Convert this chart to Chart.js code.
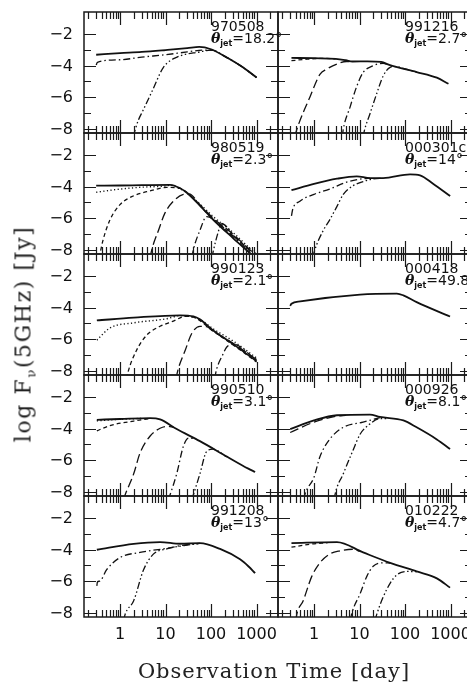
<!DOCTYPE html>
<html>
<head>
<meta charset="utf-8">
<script src="https://cdn.jsdelivr.net/npm/chart.js@4.4.1/dist/chart.umd.min.js"></script>
<style>
  body { margin: 0; width: 467px; height: 690px; overflow: hidden; background: #fff; position: relative; }
  canvas { position: absolute; left: 0; top: 0; }
  .tag { position: absolute; font: 14px "DejaVu Sans", sans-serif; line-height: 12px; color: #111; white-space: nowrap; }
  .tag i { font-family: "DejaVu Serif", serif; font-weight: bold; }
  .tag sub { font-size: 8px; font-weight: bold; vertical-align: -3px; line-height: 0; }
  .ttl { position: absolute; font: 21px "DejaVu Serif", serif; color: #222; white-space: nowrap; letter-spacing: 1px; }
  .ttl sub { font-size: 13px; vertical-align: -5px; line-height: 0; }
  .ttl.yt { font-size: 22px; letter-spacing: 1.6px; }
</style>
</head>
<body>
<script>
// tick labels
const xTickValues = [1, 10, 100, 1000];
const xTickLabels = ['1', '10', '100', '1000'];
const yTickValues = [-2, -4, -6, -8];
const yTickLabels = ['\u22122', '\u22124', '\u22126', '\u22128'];

// bursts, top-left to bottom-right
const grbNames = ['970508', '991216', '980519', '000301c', '990123', '000418', '990510', '000926', '991208', '010222'];
const thetaJet = ['18.2', '2.7', '2.3', '14', '2.1', '49.8', '3.1', '8.1', '13', '4.7'];

// [time (day), log flux (Jy)]
const grb970508Total = [[0.3,-3.3],[1,-3.2],[3,-3.12],[10,-3.0],[30,-2.88],[55,-2.8],[100,-2.95],[200,-3.4],[500,-4.1],[1000,-4.75]];
const grb970508B = [[0.3,-3.95],[0.32,-3.78],[1,-3.62],[3,-3.45],[10,-3.3],[30,-3.12],[70,-3.0],[100,-3.0],[200,-3.4],[500,-4.1],[1000,-4.75]];
const grb970508C = [[1.95,-8.5],[2.5,-7.5],[3.2,-6.85],[5.3,-5.5],[9,-4.1],[18,-3.45],[57,-3.12],[100,-3.0],[200,-3.4],[500,-4.1],[1000,-4.75]];

const grb991216Total = [[0.32,-3.5],[1,-3.52],[3,-3.56],[5,-3.65],[7,-3.73],[15,-3.72],[30,-3.76],[45,-3.95],[180,-4.4],[500,-4.76],[900,-5.15]];
const grb991216B = [[0.32,-3.68],[0.6,-3.6],[1.5,-3.53],[3,-3.56]];
const grb991216C = [[0.38,-8.5],[0.42,-8.05],[0.82,-5.97],[1.35,-4.55],[1.9,-4.22],[3.2,-3.89],[5.2,-3.73],[7,-3.73]];
const grb991216D = [[4.2,-8.5],[4.4,-8.05],[6.2,-6.63],[8.7,-5.31],[12,-4.43],[20,-4.0],[33,-3.84],[45,-3.95]];
const grb991216E = [[12,-8.5],[13,-8.05],[17,-7.05],[24,-5.75],[33,-4.66],[47,-4.1],[60,-4.05],[100,-4.2],[180,-4.4]];

const grb980519Total = [[0.3,-3.93],[1,-3.92],[3,-3.9],[12.6,-3.88],[21,-4.1],[29,-4.37],[57,-5.2],[112,-6.1],[300,-7.25],[700,-8.2],[1000,-8.6]];
const grb980519B = [[0.3,-4.35],[1,-4.15],[3,-4.03],[10,-3.95],[13,-3.9],[20,-4.1],[30,-4.4],[57,-5.1],[112,-5.9],[300,-6.9],[700,-7.9],[1000,-8.3]];
const grb980519C = [[0.35,-8.5],[0.42,-7.44],[0.6,-6.12],[1,-5.14],[1.95,-4.59],[4.6,-4.26],[10.7,-4.04],[21,-4.1],[30,-4.38],[57,-5.2],[112,-6.1],[300,-7.1],[700,-8.0]];
const grb980519D = [[4.6,-8.5],[5,-8.0],[7,-6.78],[9.7,-5.68],[14.9,-4.92],[24.7,-4.48],[33,-4.45],[57,-5.15],[112,-6.0],[300,-7.0],[700,-8.0],[1000,-8.4]];
const grb980519E = [[38,-8.5],[41,-8.0],[57,-6.78],[80,-5.9],[110,-6.05],[300,-7.15],[700,-8.1]];
const grb980519F = [[105,-8.5],[112,-8.1],[140,-7.0],[171,-6.34],[230,-6.6],[300,-7.05],[700,-8.0]];

const grb000301cTotal = [[0.32,-4.22],[1,-3.82],[3.2,-3.49],[8.7,-3.34],[17,-3.45],[33,-3.45],[129,-3.21],[214,-3.27],[420,-3.82],[980,-4.59]];
const grb000301cB = [[0.32,-5.86],[0.34,-5.45],[0.49,-4.92],[1,-4.48],[2.2,-4.15],[5.2,-3.71],[12,-3.49],[17,-3.45]];
const grb000301cC = [[0.95,-8.5],[1,-8.2],[1.6,-6.78],[2.2,-6.12],[3.2,-5.25],[4.4,-4.48],[7.3,-3.93],[12,-3.67],[20,-3.5],[33,-3.45]];

const grb990123Total = [[0.31,-4.81],[2,-4.63],[21,-4.48],[41,-4.55],[57,-4.74],[112,-5.45],[300,-6.3],[1000,-7.4]];
const grb990123B = [[0.31,-6.06],[0.6,-5.29],[2,-4.96],[10.6,-4.7],[21,-4.5],[57,-4.75],[112,-5.35],[300,-6.1],[1000,-7.2]];
const grb990123C = [[1.4,-8.5],[1.5,-8.1],[2.3,-6.72],[3.9,-5.73],[7.6,-5.18],[14.9,-4.85],[27,-4.55],[41,-4.6],[112,-5.5],[300,-6.35],[1000,-7.45]];
const grb990123D = [[17,-8.5],[19,-7.9],[27,-6.72],[38,-5.62],[57,-5.18],[80,-5.2],[112,-5.5],[300,-6.25],[1000,-7.3]];
const grb990123E = [[120,-8.5],[133,-7.9],[180,-7.0],[222,-6.5],[300,-6.3],[1000,-7.35]];

const grb000418Total = [[0.3,-3.88],[0.32,-3.75],[0.5,-3.6],[10.3,-3.16],[66,-3.1],[92,-3.21],[180,-3.64],[975,-4.56]];

const grb990510Total = [[0.31,-3.43],[1,-3.38],[4.6,-3.32],[7.6,-3.4],[17.6,-4.02],[57,-4.79],[222,-5.77],[660,-6.54],[930,-6.75]];
const grb990510B = [[0.31,-3.5],[1,-3.4],[3,-3.34]];
const grb990510C = [[0.31,-4.13],[0.6,-3.8],[2,-3.51],[4.6,-3.35]];
const grb990510D = [[1.2,-8.5],[1.3,-8.2],[2,-6.87],[2.75,-5.55],[4.6,-4.46],[7.6,-3.97],[11,-3.85],[15,-3.9]];
const grb990510E = [[11.5,-8.5],[12.6,-8.2],[17.6,-6.87],[24.7,-5.12],[32,-4.6],[45,-4.63]];
const grb990510F = [[38,-8.5],[41,-8.2],[57,-6.87],[80,-5.45],[110,-5.3],[222,-5.8]];

const grb000926Total = [[0.3,-4.02],[1,-3.47],[3.2,-3.14],[17,-3.1],[28,-3.25],[92,-3.47],[180,-3.91],[500,-4.68],[975,-5.29]];
const grb000926B = [[0.3,-4.24],[1,-3.58],[3.2,-3.2],[5,-3.15]];
const grb000926C = [[0.6,-8.5],[0.63,-8.2],[1,-7.09],[1.35,-5.78],[2.2,-4.68],[4.4,-3.91],[12,-3.58],[28,-3.3]];
const grb000926D = [[2.8,-8.5],[2.9,-8.2],[4.4,-6.87],[7.3,-5.33],[10.3,-4.35],[17,-3.69],[28,-3.35],[40,-3.35]];

const grb991208Total = [[0.31,-4.0],[2,-3.62],[7.6,-3.51],[21,-3.62],[57,-3.58],[158,-3.95],[434,-4.61],[660,-5.05],[930,-5.49]];
const grb991208B = [[0.31,-6.3],[0.32,-6.04],[0.36,-6.0],[0.51,-5.27],[1,-4.5],[2.75,-4.17],[10.6,-3.91],[30,-3.67],[57,-3.6]];
const grb991208C = [[1.2,-8.5],[1.3,-8.1],[2,-7.24],[3.3,-5.27],[5.4,-4.28],[10.6,-3.95],[30,-3.7],[57,-3.6]];

const grb010222Total = [[0.32,-3.58],[3.2,-3.51],[12,-4.17],[47,-4.83],[180,-5.38],[500,-5.82],[975,-6.41]];
const grb010222B = [[0.32,-3.84],[0.8,-3.65],[2,-3.55]];
const grb010222C = [[0.4,-8.5],[0.42,-8.1],[0.58,-7.24],[0.89,-5.71],[1.35,-4.83],[2.2,-4.28],[3.7,-4.07],[7,-3.97],[10,-4.08]];
const grb010222D = [[6.3,-8.5],[6.7,-8.1],[10.3,-6.8],[14.4,-5.71],[20,-5.05],[33,-4.83],[47,-4.85]];
const grb010222E = [[22,-8.5],[24,-8.1],[33,-7.02],[47,-6.14],[66,-5.6],[109,-5.38],[180,-5.4]];

const panelCurves = [
  [['solid', grb970508Total], ['dashdot', grb970508B], ['dashdotdot', grb970508C]],
  [['solid', grb991216Total], ['dash', grb991216B], ['long', grb991216C], ['dashdot', grb991216D], ['dashdotdot', grb991216E]],
  [['solid', grb980519Total], ['dot', grb980519B], ['dash', grb980519C], ['long', grb980519D], ['dashdot', grb980519E], ['dashdotdot', grb980519F]],
  [['solid', grb000301cTotal], ['dashdot', grb000301cB], ['dashdotdot', grb000301cC]],
  [['solid', grb990123Total], ['dot', grb990123B], ['dash', grb990123C], ['long', grb990123D], ['dashdot', grb990123E]],
  [['solid', grb000418Total]],
  [['solid', grb990510Total], ['dot', grb990510B], ['dash', grb990510C], ['long', grb990510D], ['dashdot', grb990510E], ['dashdotdot', grb990510F]],
  [['solid', grb000926Total], ['long', grb000926B], ['dashdot', grb000926C], ['dashdotdot', grb000926D]],
  [['solid', grb991208Total], ['dashdot', grb991208B], ['dashdotdot', grb991208C]],
  [['solid', grb010222Total], ['dash', grb010222B], ['long', grb010222C], ['dashdot', grb010222D], ['dashdotdot', grb010222E]]
];

// layout
const W = 480, H = 690;
const colLeft = [84, 278], colWidth = 194;
const rowTop = [12, 133, 254, 375, 496], rowHeight = 121;
const tMin = 0.162, tMax = 2960;
const fMin = -8.28, fMax = -0.58;

const lineStyles = {
  solid:      { w: 1.8, dash: [] },
  dot:        { w: 1.4, dash: [1.2, 2.4] },
  dash:       { w: 1.3, dash: [4, 3] },
  long:       { w: 1.3, dash: [9, 4] },
  dashdot:    { w: 1.3, dash: [7, 3, 1.5, 3] },
  dashdotdot: { w: 1.3, dash: [7, 2.5, 1.5, 2.5, 1.5, 2.5] }
};

// frame with inward ticks on all four sides, plus tick labels
const framePlugin = {
  id: 'frame',
  afterDatasetsDraw(chart, args, opts) {
    const ctx = chart.ctx, a = chart.chartArea;
    const xs = chart.scales.x, ys = chart.scales.y;
    ctx.save();
    ctx.strokeStyle = '#1a1a1a';
    ctx.lineWidth = 1.5;
    ctx.strokeRect(a.left, a.top, a.right - a.left, a.bottom - a.top);
    ctx.lineWidth = 1.2;
    ctx.beginPath();
    for (let d = -1; d <= 3; d++) {
      for (let m = 1; m <= 9; m++) {
        const v = m * Math.pow(10, d);
        if (v < tMin || v > tMax) continue;
        const px = Math.round(xs.getPixelForValue(v)) + 0.5;
        const len = m === 1 ? 13 : 7;
        ctx.moveTo(px, a.bottom); ctx.lineTo(px, a.bottom - len);
        ctx.moveTo(px, a.top); ctx.lineTo(px, a.top + len);
      }
    }
    for (let v = -8; v <= -2; v++) {
      const py = Math.round(ys.getPixelForValue(v)) + 0.5;
      const len = v % 2 === 0 ? 12 : 7;
      ctx.moveTo(a.left, py); ctx.lineTo(a.left + len, py);
      ctx.moveTo(a.right, py); ctx.lineTo(a.right - len, py);
    }
    ctx.stroke();

    ctx.fillStyle = '#111';
    ctx.font = '16px "DejaVu Sans"';
    if (opts.yLabels) {
      ctx.textAlign = 'right';
      ctx.textBaseline = 'middle';
      yTickValues.forEach((v, i) => ctx.fillText(yTickLabels[i], a.left - 11, ys.getPixelForValue(v) + 1));
    }
    if (opts.xLabels) {
      ctx.textAlign = 'center';
      ctx.textBaseline = 'middle';
      xTickValues.forEach((v, i) => ctx.fillText(xTickLabels[i], xs.getPixelForValue(v), a.bottom + 18));
    }
    ctx.restore();
  }
};

panelCurves.forEach((curves, i) => {
  const col = i % 2, row = Math.floor(i / 2);
  const left = colLeft[col], top = rowTop[row];

  const canvas = document.createElement('canvas');
  canvas.width = W;
  canvas.height = H;
  document.body.appendChild(canvas);

  new Chart(canvas, {
    type: 'line',
    data: {
      datasets: curves.map(([style, pts]) => ({
        data: pts.map(p => ({ x: p[0], y: p[1] })),
        borderColor: '#111',
        borderWidth: lineStyles[style].w,
        borderDash: lineStyles[style].dash,
        pointRadius: 0,
        fill: false,
        cubicInterpolationMode: 'monotone',
        clip: 0
      }))
    },
    options: {
      responsive: false,
      animation: false,
      events: [],
      layout: { padding: { left: left, top: top, right: W - left - colWidth, bottom: H - top - rowHeight } },
      plugins: {
        legend: { display: false },
        tooltip: { enabled: false },
        frame: { yLabels: col === 0, xLabels: row === 4 }
      },
      scales: {
        x: { type: 'logarithmic', min: tMin, max: tMax, display: false },
        y: { type: 'linear', min: fMin, max: fMax, display: false }
      }
    },
    plugins: [framePlugin]
  });

  const tag = document.createElement('div');
  tag.className = 'tag';
  tag.style.left = (left + colWidth - 67) + 'px';
  tag.style.top = (top + 8) + 'px';
  tag.innerHTML = grbNames[i] + '<br><i>\u03b8</i><sub>jet</sub>=' + thetaJet[i] + '\u00b0';
  document.body.appendChild(tag);
});

// axis titles
const xTitle = document.createElement('div');
xTitle.className = 'ttl';
xTitle.textContent = 'Observation Time [day]';
xTitle.style.left = '274px';
xTitle.style.top = '671px';
xTitle.style.transform = 'translate(-50%, -50%)';
document.body.appendChild(xTitle);

const yTitle = document.createElement('div');
yTitle.className = 'ttl yt';
yTitle.innerHTML = 'log F<sub>\u03bd</sub>(5GHz) [Jy]';
yTitle.style.left = '23px';
yTitle.style.top = '334px';
yTitle.style.transform = 'translate(-50%, -50%) rotate(-90deg)';
document.body.appendChild(yTitle);
</script>
</body>
</html>
